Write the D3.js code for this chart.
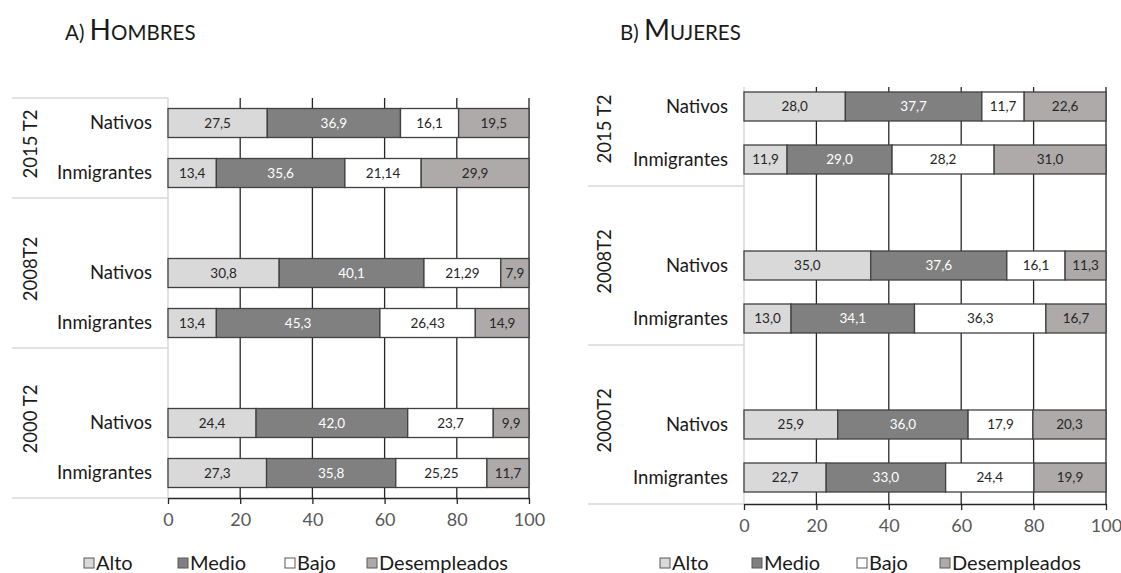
<!DOCTYPE html>
<html>
<head>
<meta charset="utf-8">
<script src="https://cdn.jsdelivr.net/npm/d3@7"></script>
<style>
  html, body { margin: 0; padding: 0; background: #ffffff; }
  svg { display: block; }
  text { font-family: Lato, "Open Sans", sans-serif; }
</style>
</head>
<body>
<svg id="chart" width="1121" height="573"></svg>
<script>
// ---- data ----
const segments = ["Alto", "Medio", "Bajo", "Desempleados"];
const rowLabels = ["Nativos", "Inmigrantes"];
const periodsH = ["2015 T2", "2008T2", "2000 T2"];
const periodsM = ["2015 T2", "2008T2", "2000T2"];
const xTicks = [0, 20, 40, 60, 80, 100];

const hombres2015Nativos     = [27.5, 36.9, 16.1, 19.5];
const hombres2015Inmigrantes = [13.4, 35.6, 21.14, 29.9];
const hombres2008Nativos     = [30.8, 40.1, 21.29, 7.9];
const hombres2008Inmigrantes = [13.4, 45.3, 26.43, 14.9];
const hombres2000Nativos     = [24.4, 42.0, 23.7, 9.9];
const hombres2000Inmigrantes = [27.3, 35.8, 25.25, 11.7];

const mujeres2015Nativos     = [28.0, 37.7, 11.7, 22.6];
const mujeres2015Inmigrantes = [11.9, 29.0, 28.2, 31.0];
const mujeres2008Nativos     = [35.0, 37.6, 16.1, 11.3];
const mujeres2008Inmigrantes = [13.0, 34.1, 36.3, 16.7];
const mujeres2000Nativos     = [25.9, 36.0, 17.9, 20.3];
const mujeres2000Inmigrantes = [22.7, 33.0, 24.4, 19.9];

// ---- styles ----
const colors = {Alto: "#d9d9d9", Medio: "#808080", Bajo: "#ffffff", Desempleados: "#aeaaaa"};
const labelColors = {Alto: "#262626", Medio: "#ffffff", Bajo: "#262626", Desempleados: "#262626"};

function fmt(v) {
  const oneDec = Math.abs(Math.round(v * 10) - v * 10) < 1e-6;
  return v.toFixed(oneDec ? 1 : 2).replace(".", ",");
}

const svg = d3.select("#chart");

function drawPanel(cfg) {
  const g = svg.append("g");
  const slots = [];
  const groups = [];
  cfg.rows.forEach((period, pi) => {
    const start = slots.length;
    if (pi > 0) slots.push({key: pi + "|blank", blank: true});
    period.forEach((vals, ri) => slots.push({key: pi + "|" + ri, label: rowLabels[ri], values: vals}));
    groups.push({name: cfg.periods[pi], first: slots[start].key, last: slots[slots.length - 1].key});
  });

  const x = d3.scaleLinear().domain([0, 100]).range([cfg.x0, cfg.x1]);
  const y = d3.scaleBand().domain(slots.map(s => s.key)).range([cfg.yTop, cfg.yBottom]).paddingInner(0).paddingOuter(0);
  const barH = 29;

  // label area separators (light gray)
  const sepYs = [];
  if (cfg.topSep) sepYs.push(cfg.yTop);
  groups.forEach(gr => sepYs.push(y(gr.last) + y.bandwidth()));
  g.selectAll("line.sep").data(sepYs).join("line")
    .attr("x1", cfg.labelLeft).attr("x2", cfg.x0)
    .attr("y1", d => d).attr("y2", d => d)
    .attr("stroke", "#d9d9d9").attr("stroke-width", 1.5);
  g.append("line")
    .attr("x1", cfg.x0).attr("x2", cfg.x0)
    .attr("y1", cfg.gridTop).attr("y2", cfg.yBottom)
    .attr("stroke", "#d9d9d9").attr("stroke-width", 1.5);

  // gridlines
  g.selectAll("line.grid").data(xTicks.filter(t => t > 0)).join("line")
    .attr("x1", d => x(d)).attr("x2", d => x(d))
    .attr("y1", cfg.gridTop).attr("y2", cfg.yBottom)
    .attr("stroke", "#262626").attr("stroke-width", 1.3);

  // bars
  const dataRows = slots.filter(s => !s.blank);
  dataRows.forEach(row => {
    let cum = 0;
    const segs = row.values.map((v, i) => { const s = {name: segments[i], v: v, start: cum}; cum += v; return s; });
    const cy = y(row.key) + y.bandwidth() / 2;
    const rg = g.append("g");
    rg.selectAll("rect").data(segs).join("rect")
      .attr("x", d => x(d.start))
      .attr("width", d => Math.max(0, Math.min(x(d.start + d.v), cfg.x1) - x(d.start)))
      .attr("y", cy - barH / 2).attr("height", barH)
      .attr("fill", d => colors[d.name])
      .attr("stroke", "#404040").attr("stroke-width", 1.3);
    rg.selectAll("text").data(segs).join("text")
      .attr("x", d => (x(d.start) + Math.min(x(d.start + d.v), cfg.x1)) / 2)
      .attr("y", cy)
      .attr("dy", "0.35em")
      .attr("text-anchor", "middle")
      .attr("font-size", 13.5)
      .attr("fill", d => labelColors[d.name])
      .text(d => fmt(d.v));
    g.append("text")
      .attr("x", cfg.rowLabelX).attr("y", cy).attr("dy", "0.35em")
      .attr("text-anchor", "end").attr("font-size", 18.5).attr("fill", "#1a1a1a")
      .text(row.label);
  });

  // period labels (rotated)
  groups.forEach(gr => {
    const cy = (y(gr.first) + y(gr.last) + y.bandwidth()) / 2 - 4;
    g.append("text")
      .attr("transform", `translate(${cfg.periodX},${cy}) rotate(-90)`)
      .attr("text-anchor", "middle").attr("dy", "0.35em")
      .attr("font-size", 18.5).attr("fill", "#1a1a1a")
      .text(gr.name);
  });

  // x axis
  const ax = g.append("g").attr("transform", `translate(0,${cfg.yBottom})`)
    .call(d3.axisBottom(x).tickValues(xTicks).tickSize(6).tickSizeOuter(0).tickPadding(9).tickFormat(d3.format("d")));
  ax.select(".domain").attr("stroke", "#262626").attr("stroke-width", 1.3);
  ax.selectAll(".tick line").attr("stroke", "#262626").attr("stroke-width", 1.3);
  ax.selectAll(".tick text").attr("font-size", 18).attr("fill", "#595959")
    .attr("font-family", "Lato, sans-serif");

  // title
  const t = g.append("text").attr("x", cfg.titleX).attr("y", 40).attr("fill", "#1a1a1a");
  t.append("tspan").attr("font-size", 20.5).text(cfg.title[0]);
  t.append("tspan").attr("font-size", 20.5).text("\u00a0");
  t.append("tspan").attr("font-size", 28).text(cfg.title[1]);
  t.append("tspan").attr("font-size", 20.5).text(cfg.title[2]);

  // legend
  const lg = g.append("g").attr("transform", `translate(0,${cfg.legendY})`);
  segments.forEach((s, i) => {
    const lx = cfg.x0 + cfg.legendOffsets[i];
    lg.append("rect").attr("x", lx).attr("y", -5).attr("width", 10).attr("height", 10)
      .attr("fill", colors[s]).attr("stroke", "#595959").attr("stroke-width", 1);
    lg.append("text").attr("x", lx + 12).attr("y", 0).attr("dy", "0.35em")
      .attr("font-size", 20).attr("fill", "#1a1a1a").text(s);
  });
}

drawPanel({
  title: ["A)", "H", "OMBRES"],
  titleX: 65,
  periods: periodsH,
  rows: [[hombres2015Nativos, hombres2015Inmigrantes],
         [hombres2008Nativos, hombres2008Inmigrantes],
         [hombres2000Nativos, hombres2000Inmigrantes]],
  x0: 168, x1: 529,
  yTop: 98, yBottom: 498, gridTop: 98, topSep: true,
  labelLeft: 12, rowLabelX: 152, periodX: 31,
  legendY: 563, legendOffsets: [-84, 10, 117, 199]
});

drawPanel({
  title: ["B)", "M", "UJERES"],
  titleX: 620,
  periods: periodsM,
  rows: [[mujeres2015Nativos, mujeres2015Inmigrantes],
         [mujeres2008Nativos, mujeres2008Inmigrantes],
         [mujeres2000Nativos, mujeres2000Inmigrantes]],
  x0: 744, x1: 1106,
  yTop: 80, yBottom: 504, gridTop: 87, topSep: false,
  labelLeft: 588, rowLabelX: 728, periodX: 605,
  legendY: 563, legendOffsets: [-84, 8, 113, 196]
});
</script>
</body>
</html>
